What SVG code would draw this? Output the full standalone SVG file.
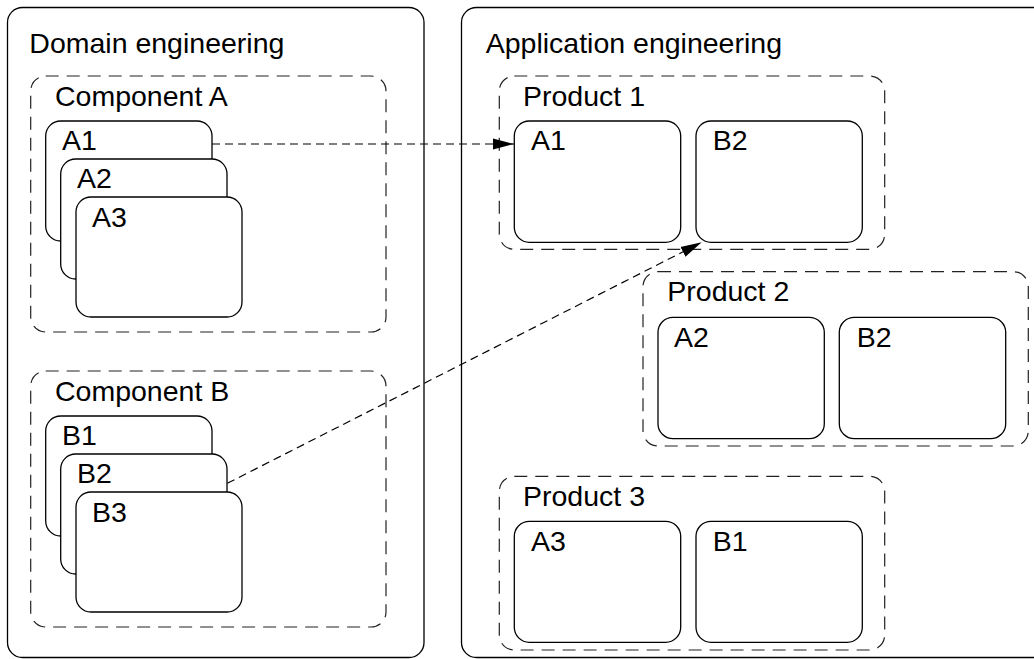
<svg xmlns="http://www.w3.org/2000/svg" width="1034" height="659" viewBox="0 0 1034 659">
<style>
.outer{fill:#fff;stroke:#000;stroke-width:1.3}
.grp{fill:none;stroke:#222;stroke-width:1.2;stroke-dasharray:13 8}
.box{fill:#fff;stroke:#000;stroke-width:1.3}
text{font-family:"Liberation Sans",Arial,sans-serif;font-size:28.5px;fill:#000}
.conn{fill:none;stroke:#000;stroke-width:1.2;stroke-dasharray:8 5}
</style>
<defs>
<marker id="arr" markerUnits="userSpaceOnUse" markerWidth="22" markerHeight="12" refX="21" refY="6" orient="auto">
<path d="M0,0.5 L21,6 L0,11.5 Z" fill="#000"/>
</marker>
</defs>
<rect width="1034" height="659" fill="#fff"/>
<g id="domain">
<rect class="outer" x="7.5" y="7.5" width="416.5" height="650" rx="15"/>
<text x="29.3" y="52.5">Domain engineering</text>
</g>
<g id="application">
<rect class="outer" x="461.5" y="7.5" width="600" height="650" rx="15"/>
<text x="485.7" y="52.7">Application engineering</text>
</g>
<g id="componentA">
<rect class="grp" x="30.7" y="76" width="355.3" height="256" rx="15"/>
<text x="55" y="106">Component A</text>
<g id="dA1"><rect class="box" x="45.7" y="121" width="166.3" height="120" rx="15"/><text x="62" y="150">A1</text></g>
<g id="dA2"><rect class="box" x="60.7" y="159" width="166.3" height="120" rx="15"/><text x="77" y="188">A2</text></g>
<g id="dA3"><rect class="box" x="76" y="197" width="166" height="120" rx="15"/><text x="92" y="226.7">A3</text></g>
</g>
<g id="componentB">
<rect class="grp" x="30.7" y="371" width="355.3" height="256" rx="15"/>
<text x="55" y="401">Component B</text>
<g id="dB1"><rect class="box" x="45.7" y="416" width="166.3" height="120" rx="15"/><text x="62" y="445">B1</text></g>
<g id="dB2"><rect class="box" x="60.7" y="454" width="166.3" height="120" rx="15"/><text x="77" y="483">B2</text></g>
<g id="dB3"><rect class="box" x="76" y="492" width="166" height="120" rx="15"/><text x="92" y="522">B3</text></g>
</g>
<g id="product1">
<rect class="grp" x="499.3" y="76" width="385.4" height="173.3" rx="15"/>
<text x="523" y="106">Product 1</text>
<g id="p1A1"><rect class="box" x="514.3" y="121" width="166.4" height="121.3" rx="15"/><text x="531" y="150">A1</text></g>
<g id="p1B2"><rect class="box" x="696" y="121" width="166.3" height="121.3" rx="15"/><text x="712.7" y="150">B2</text></g>
</g>
<g id="product2">
<rect class="grp" x="643" y="271.7" width="385.3" height="174.3" rx="15"/>
<text x="667.3" y="301">Product 2</text>
<g id="p2A2"><rect class="box" x="658" y="317.3" width="166.3" height="121.4" rx="15"/><text x="674" y="346.7">A2</text></g>
<g id="p2B2"><rect class="box" x="839.3" y="317.3" width="166.4" height="121.4" rx="15"/><text x="856.7" y="346.7">B2</text></g>
</g>
<g id="product3">
<rect class="grp" x="499.3" y="476.3" width="385.4" height="173.7" rx="15"/>
<text x="523" y="506.3">Product 3</text>
<g id="p3A3"><rect class="box" x="514.3" y="521.3" width="166.4" height="121" rx="15"/><text x="531" y="551.3">A3</text></g>
<g id="p3B1"><rect class="box" x="696" y="521.3" width="166.3" height="121" rx="15"/><text x="712.7" y="551.3">B1</text></g>
</g>
<g id="connectors">
<line class="conn" x1="212" y1="144" x2="514" y2="144" marker-end="url(#arr)"/>
<line class="conn" x1="227.3" y1="483.3" x2="701.7" y2="242.3" marker-end="url(#arr)"/>
</g>
</svg>
